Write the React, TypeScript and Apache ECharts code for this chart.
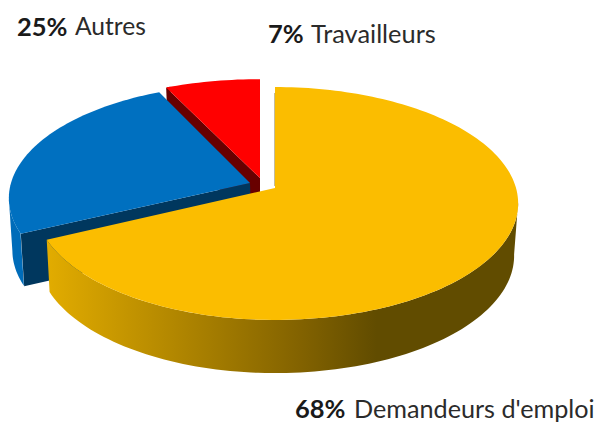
import React, { useEffect, useRef } from "react";
import * as echarts from "echarts";

const categories = ["Demandeurs d'emploi", "Autres", "Travailleurs"];
const percents = [68, 25, 7];

const Q = 0.133;
const DEG = Math.PI / 180;
const FONT = "Lato, 'Noto Sans', sans-serif";

const sliceStyle = [
  { ax: 275, ay: 188, A: 241, leftA: 238, lowA: 237, lowLeftA: 235, lowDx: 0, B: 114.4, top: "#FBBD00", from: 97, to: 245,
    cut: "rgba(120,105,40,0.45)",
    side: { type: "linear", global: true, x: 47, y: 0, x2: 518, y2: 0, colorStops: [
      { offset: 0, color: "#E2AC00" },
      { offset: 0.54, color: "#826200" },
      { offset: 0.7, color: "#614C00" },
      { offset: 1, color: "#614C00" },
    ] } },
  { ax: 250, ay: 183, A: 239, leftA: 239, lowA: 237, lowLeftA: 237, lowDx: 1.5, B: 112.5, top: "#0070C0", cut: "#00375E", from: 245, to: 262, side: "#006CB9" },
  { ax: 260, ay: 178, A: 247, leftA: 247, lowA: 241, lowLeftA: 241, lowDx: 0, B: 112, top: "#FF0000", cut: "#680000", from: 335, to: 336, side: "#680000" },
];

const labelStyle = [
  { pct: 295, name: 354, fontSize: 25.2, y: 408 },
  { pct: 17, name: 75, fontSize: 24.6, y: 25.5 },
  { pct: 268, name: 311, fontSize: 25.4, y: 32.5 },
];

function project(s: any, deg: number, low: boolean) {
  const u = Math.sin(deg * DEG);
  const v = Math.cos(deg * DEG);
  const w = 1 + Q * v;
  const A = low ? (u < 0 ? s.lowLeftA : s.lowA) : u < 0 ? s.leftA : s.A;
  const B = low ? s.B + 1 : s.B;
  const dy = low ? 52 : 0;
  const dx = low ? s.lowDx : 0;
  return [s.ax + dx + (A * u) / w, s.ay + dy - (B * v) / w];
}

function arc(s: any, a: number, b: number, low: boolean) {
  const out: number[][] = [];
  const n = Math.max(2, Math.ceil(Math.abs(b - a) / 1.5));
  for (let i = 0; i <= n; i++) out.push(project(s, a + ((b - a) * i) / n, low));
  return out;
}

const total = percents.reduce((x, y) => x + y, 0);

function renderItem(_params: any, api: any) {
  const idx = api.value(0);
  const s = sliceStyle[idx];
  let acc = 0;
  for (let i = 0; i < idx; i++) acc += percents[i];
  const start = (acc / total) * 360;
  const end = ((acc + api.value(1)) / total) * 360;
  const from = Math.max(start, s.from);
  const to = Math.min(end, s.to);
  const children: any[] = [];
  if (to > from) {
    children.push({
      type: "polygon",
      shape: { points: [...arc(s, from, to, false), ...arc(s, to, from, true)] },
      style: { fill: s.side },
    });
  }
  if (idx > 0) {
    children.push({
      type: "polygon",
      shape: {
        points: [
          [s.ax, s.ay],
          project(s, start, false),
          project(s, start, true),
          [s.ax + s.lowDx, s.ay + 52],
        ],
      },
      style: { fill: s.cut },
    });
  }
  children.push({
    type: "polygon",
    shape: { points: [[s.ax, s.ay], ...arc(s, start, end, false)] },
    style: { fill: s.top },
  });
  if (idx === 0) {
    // thin sliver of the yellow slice's cut face beside its vertical edge
    const t = project(s, start, false);
    children.push({
      type: "polygon",
      shape: { points: [[s.ax - 1, t[1] + 6], [s.ax, t[1] + 6], [s.ax, s.ay - 2], [s.ax - 1, s.ay - 2]] },
      style: { fill: s.cut },
    });
  }
  return { type: "group", children };
}

export default function App() {
  const ref = useRef<HTMLDivElement>(null);
  useEffect(() => {
    document.body.style.margin = "0";
    const chart = echarts.init(ref.current!, null, { renderer: "svg" });
    const labels: any[] = [];
    categories.forEach((c, i) => {
      const l = labelStyle[i];
      labels.push({
        type: "text",
        x: l.pct,
        y: l.y,
        style: {
          text: `${percents[i]}%`,
          font: `bold 25.5px ${FONT}`,
          fill: "#1a1a1a",
          verticalAlign: "middle",
        },
      });
      labels.push({
        type: "text",
        x: l.name,
        y: l.y,
        style: {
          text: c,
          font: `${l.fontSize}px ${FONT}`,
          fill: "#2b2b2b",
          verticalAlign: "middle",
        },
      });
    });
    chart.setOption({
      animation: false,
      backgroundColor: "#ffffff",
      series: [
        {
          type: "custom",
          coordinateSystem: "none",
          silent: true,
          renderItem,
          data: [2, 1, 0].map((i) => [i, percents[i]]),
        },
      ],
      graphic: labels,
    });
    return () => chart.dispose();
  }, []);
  return <div ref={ref} style={{ width: 598, height: 423 }} />;
}
